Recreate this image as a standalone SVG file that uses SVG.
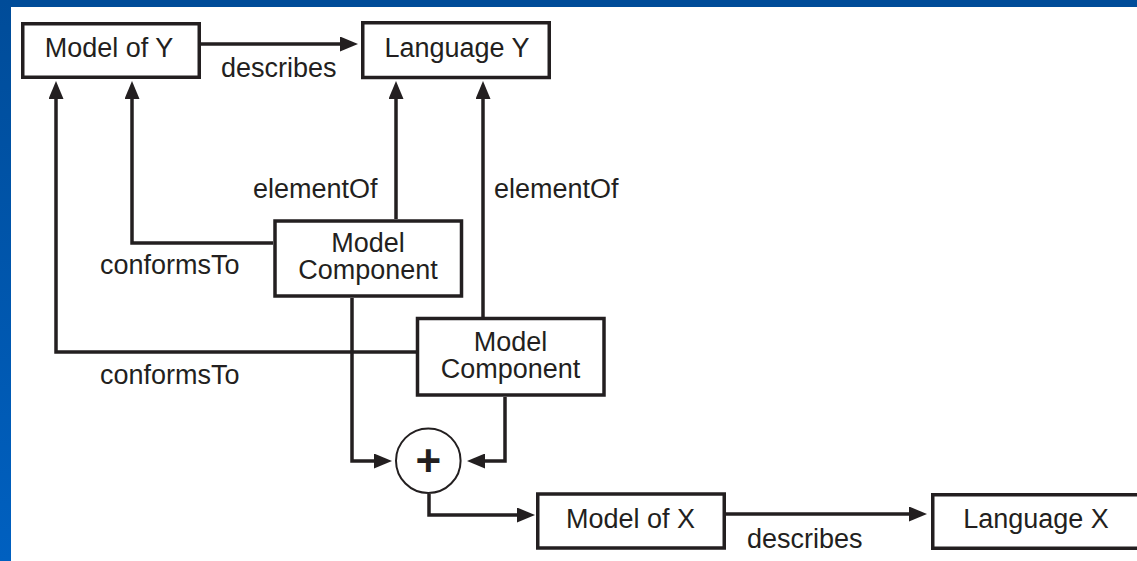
<svg xmlns="http://www.w3.org/2000/svg" width="1137" height="561" viewBox="0 0 1137 561">
  <defs>
    <linearGradient id="sideBar" x1="0" y1="0" x2="0" y2="1">
      <stop offset="0" stop-color="#004c99"/>
      <stop offset="1" stop-color="#0060c0"/>
    </linearGradient>
    <marker id="arrow" markerUnits="userSpaceOnUse" markerWidth="18" markerHeight="15" refX="12" refY="7.5" orient="auto">
      <path d="M0,0 L18,7.5 L0,15 z" fill="#231f20"/>
    </marker>
    <style>
      .box { fill: #ffffff; stroke: #231f20; stroke-width: 3.5; }
      .lbl { font-family: "Liberation Sans", Arial, sans-serif; font-size: 27px; fill: #231f20; }
      .mid { text-anchor: middle; }
      .wire { fill: none; stroke: #231f20; stroke-width: 3.5; stroke-linejoin: miter; marker-end: url(#arrow); }
    </style>
  </defs>

  <!-- page frame -->
  <rect x="0" y="0" width="1137" height="561" fill="#ffffff"/>
  <rect x="0" y="0" width="1137" height="7" fill="#004c99"/>
  <rect x="0" y="0" width="11" height="561" fill="url(#sideBar)"/>

  <!-- connectors -->
  <g id="connectors">
    <path class="wire" d="M199,44 H352"/>
    <path class="wire" d="M416,352 H56 V87"/>
    <path class="wire" d="M273,243 H132 V87"/>
    <path class="wire" d="M396,219 V87"/>
    <path class="wire" d="M483,317 V87"/>
    <path class="wire" d="M352,298 V461 H386"/>
    <path class="wire" d="M505,397 V461 H473"/>
    <path class="wire" d="M429,494 V515 H529"/>
    <path class="wire" d="M726,514 H921"/>
  </g>

  <!-- edge labels -->
  <g id="edge-labels">
    <text class="lbl" x="221" y="77">describes</text>
    <text class="lbl" x="253" y="198">elementOf</text>
    <text class="lbl" x="494" y="198">elementOf</text>
    <text class="lbl" x="100" y="274">conformsTo</text>
    <text class="lbl" x="100" y="384">conformsTo</text>
    <text class="lbl" x="747" y="548">describes</text>
  </g>

  <g id="model-of-y">
    <rect class="box" x="22.75" y="23.75" width="176.5" height="53.5"/>
    <text class="lbl mid" x="109" y="57">Model of Y</text>
  </g>

  <g id="language-y">
    <rect class="box" x="362.75" y="22.75" width="186.5" height="54.75"/>
    <text class="lbl mid" x="457" y="57">Language Y</text>
  </g>

  <g id="model-component-1">
    <rect class="box" x="275" y="221" width="186.5" height="75"/>
    <text class="lbl mid" x="368" y="252">Model</text>
    <text class="lbl mid" x="368" y="279">Component</text>
  </g>

  <g id="model-component-2">
    <rect class="box" x="417.5" y="318.5" width="186.5" height="76.5"/>
    <text class="lbl mid" x="510.5" y="351">Model</text>
    <text class="lbl mid" x="510.5" y="378">Component</text>
  </g>

  <g id="combine">
    <circle cx="428.3" cy="460.7" r="32.3" fill="#ffffff" stroke="#231f20" stroke-width="2"/>
    <text class="lbl mid" x="428.3" y="476" style="font-size:44px;font-weight:bold">+</text>
  </g>

  <g id="model-of-x">
    <rect class="box" x="537.75" y="494" width="186.5" height="54"/>
    <text class="lbl mid" x="630.5" y="528">Model of X</text>
  </g>

  <g id="language-x">
    <rect class="box" x="932.75" y="494.75" width="220" height="53.5"/>
    <text class="lbl mid" x="1036" y="528">Language X</text>
  </g>
</svg>
